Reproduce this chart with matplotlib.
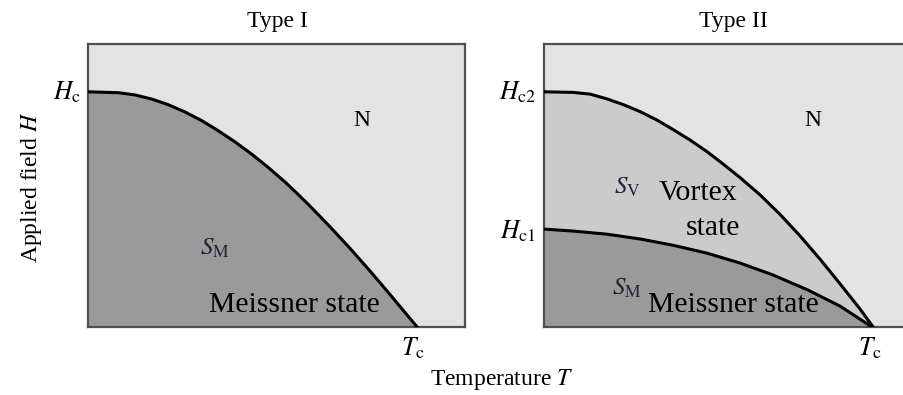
import matplotlib.pyplot as plt

plt.rcParams['font.family'] = ['Liberation Serif', 'DejaVu Serif']
plt.rcParams['mathtext.fontset'] = 'stix'

# phase boundaries (T, H) in axis units
t1_T = [0.0, 0.08, 0.125, 0.17, 0.212, 0.257, 0.302, 0.345, 0.39, 0.435, 0.477, 0.523,
        0.56, 0.589, 0.642, 0.695, 0.748, 0.801, 0.836, 0.873]
t1_H = [0.831, 0.828, 0.82, 0.805, 0.786, 0.76, 0.729, 0.694, 0.654, 0.61, 0.565, 0.512,
        0.465, 0.427, 0.354, 0.278, 0.198, 0.115, 0.059, 0.0]

hc2_T = [0.0, 0.077, 0.122, 0.167, 0.21, 0.255, 0.3, 0.342, 0.387, 0.432, 0.475, 0.52,
         0.573, 0.626, 0.679, 0.732, 0.785, 0.838, 0.873]
hc2_H = [0.831, 0.829, 0.823, 0.806, 0.786, 0.761, 0.731, 0.698, 0.661, 0.62, 0.576, 0.528,
         0.467, 0.398, 0.322, 0.24, 0.153, 0.064, 0.0]

hc1_T = [0.0, 0.077, 0.167, 0.255, 0.342, 0.432, 0.52, 0.607, 0.698, 0.785, 0.87]
hc1_H = [0.346, 0.339, 0.328, 0.311, 0.289, 0.261, 0.226, 0.184, 0.132, 0.074, 0.0]

c_normal = '#e3e3e3'
c_vortex = '#cbcbcb'
c_meissner = '#9a9a9a'

W, H = 904, 395


def px(x, y):
    # pixel position -> figure fraction
    return x / W, 1 - y / H


fig = plt.figure(figsize=(W / 100, H / 100), dpi=100)
ax1 = fig.add_axes([88 / W, 1 - 327 / H, 377 / W, 283 / H])
ax2 = fig.add_axes([544 / W, 1 - 327 / H, 377 / W, 283 / H])

for ax in (ax1, ax2):
    ax.set_xlim(0, 1)
    ax.set_ylim(0, 1)
    ax.set_facecolor(c_normal)
    ax.set_xticks([])
    ax.set_yticks([])
    for s in ax.spines.values():
        s.set_color('#505050')
        s.set_linewidth(1.6)

# Type I
ax1.fill_between(t1_T, t1_H, 0, color=c_meissner, lw=0)
ax1.plot(t1_T, t1_H, color='black', lw=2.2, zorder=5, solid_joinstyle='round')

# Type II
ax2.fill_between(hc2_T, hc2_H, 0, color=c_vortex, lw=0)
ax2.fill_between(hc1_T, hc1_H, 0, color=c_meissner, lw=0)
ax2.plot(hc2_T, hc2_H, color='black', lw=2.2, zorder=5, solid_joinstyle='round')
ax2.plot(hc1_T, hc1_H, color='black', lw=2.2, zorder=5, solid_joinstyle='round')

lab = 17
sym = 18.5
big = 21.3
sub_col = '#22223a'

fig.text(*px(277, 21), 'Type I', ha='center', va='center', fontsize=lab)
fig.text(*px(733, 21), 'Type II', ha='center', va='center', fontsize=lab)
fig.text(*px(502, 380), 'Temperature $T$', ha='center', va='center', fontsize=lab)
fig.text(*px(32, 187), 'Applied field $H$', ha='center', va='center', fontsize=lab, rotation=90)

fig.text(*px(81, 92), r'$H_{\mathrm{c}}$', ha='right', va='center', fontsize=sym)
fig.text(*px(536, 92), r'$H_{\mathrm{c2}}$', ha='right', va='center', fontsize=sym)
fig.text(*px(536, 231), r'$H_{\mathrm{c1}}$', ha='right', va='center', fontsize=sym)
fig.text(*px(413, 348), r'$T_{\mathrm{c}}$', ha='center', va='center', fontsize=sym)
fig.text(*px(870, 348), r'$T_{\mathrm{c}}$', ha='center', va='center', fontsize=sym)

fig.text(*px(362, 120), 'N', ha='center', va='center', fontsize=lab)
fig.text(*px(813, 120), 'N', ha='center', va='center', fontsize=lab)
fig.text(*px(215, 248), r'$S_{\mathrm{M}}$', ha='center', va='center', fontsize=18, color=sub_col)
fig.text(*px(627, 187), r'$S_{\mathrm{V}}$', ha='center', va='center', fontsize=18, color=sub_col)
fig.text(*px(627, 288), r'$S_{\mathrm{M}}$', ha='center', va='center', fontsize=18, color=sub_col)

fig.text(*px(294, 305), 'Meissner state', ha='center', va='center', fontsize=big)
fig.text(*px(733, 305), 'Meissner state', ha='center', va='center', fontsize=big)
fig.text(*px(698, 193), 'Vortex', ha='center', va='center', fontsize=big)
fig.text(*px(713, 228), 'state', ha='center', va='center', fontsize=big)

fig.savefig('out.png', dpi=100)
